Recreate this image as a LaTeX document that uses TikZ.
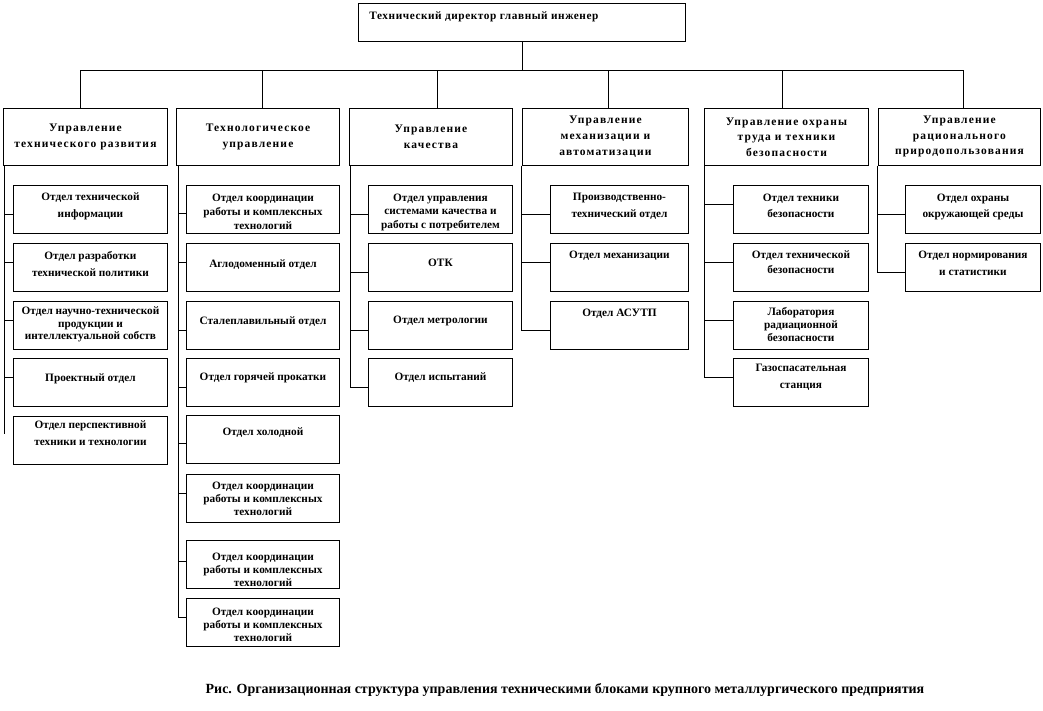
\documentclass[tikz,border=0pt]{standalone}
\usepackage{fontspec}
\setmainfont{Liberation Serif}
\begin{document}
\begin{tikzpicture}[x=1pt,y=-1pt,
  bx/.style={draw, line width=0.9pt, inner sep=0pt, anchor=north west, font=\bfseries},
  ln/.style={line width=0.9pt}]
\useasboundingbox (0,0) rectangle (1043,710);
% name x y w offset spacing text
\newcommand\cbox[7]{\node[bx] (#1) at (#2,#3) {\begin{minipage}[c][48pt][t]{#4pt}\centering\fontsize{11.3}{#6}\selectfont\vspace*{\dimexpr#5pt-4.5pt\relax}\rule{0pt}{7.5pt}#7\end{minipage}};}
% name x w spacing text
\newcommand\hdbox[5]{\node[bx] (#1) at (#2,108) {\begin{minipage}[c][57pt][c]{#3pt}\centering\fontsize{11.5}{#4}\selectfont\addfontfeature{LetterSpace=10}#5\end{minipage}};}

\node[bx] (top) at (358,3) {\begin{minipage}[c][38pt][t]{327pt}\fontsize{11.3}{14}\selectfont\addfontfeature{LetterSpace=5}\vspace*{8pt}\rule{0pt}{7.5pt}\hspace*{11pt}Технический  директор главный инженер\end{minipage}};

\hdbox{h1}{3}{164}{16}{Управление\\технического  развития}
\hdbox{h2}{176}{163}{16}{Технологическое\\управление}
\hdbox{h3}{349}{163}{16}{Управление\\качества}
\hdbox{h4}{522}{166}{16}{Управление\\механизации  и\\автоматизации}
\hdbox{h5}{704}{164}{15.5}{Управление  охраны\\труда  и техники\\безопасности}
\hdbox{h6}{878}{162}{15.5}{Управление\\рационального\\природопользования}

% bus
\coordinate (j1) at (80,70);
\coordinate (j2) at (262,70);
\coordinate (j3) at (437,70);
\coordinate (j4) at (608,70);
\coordinate (j5) at (782,70);
\coordinate (j6) at (963,70);
\draw[ln] (top.south) -- (top.south |- j1);
\draw[ln] (j1) -- (j6);
\foreach \k in {1,...,6} {\draw[ln] (j\k) -- (j\k |- h\k.north);}

% column 1
\cbox{b11}{13}{185}{154}{12}{17}{Отдел технической\\информации}
\cbox{b12}{13}{243}{154}{12}{17}{Отдел разработки\\технической  политики}
\cbox{b13}{13}{301}{154}{10}{12.5}{Отдел научно-технической\\продукции и\\интеллектуальной собств}
\cbox{b14}{13}{358}{154}{20}{17}{Проектный отдел}
\cbox{b15}{13}{416}{154}{9}{17}{Отдел перспективной\\техники  и технологии}
% column 2
\cbox{b21}{186}{185}{153}{13}{14}{Отдел координации\\работы и комплексных\\технологий}
\cbox{b22}{186}{243}{153}{21}{17}{Аглодоменный  отдел}
\cbox{b23}{186}{301}{153}{20}{17}{Сталеплавильный  отдел}
\cbox{b24}{186}{358}{153}{19}{17}{Отдел горячей прокатки}
\cbox{b25}{186}{415}{153}{17}{17}{Отдел холодной}
\cbox{b26}{186}{474}{153}{12}{13}{Отдел координации\\работы и комплексных\\технологий}
\cbox{b27}{186}{540}{153}{17}{13}{Отдел координации\\работы и комплексных\\технологий}
\cbox{b28}{186}{598}{153}{14}{13}{Отдел координации\\работы и комплексных\\технологий}
% column 3
\cbox{b31}{368}{185}{144}{13}{13.5}{Отдел управления\\системами  качества и\\работы с потребителем}
\cbox{b32}{368}{243}{144}{20}{17}{ОТК}
\cbox{b33}{368}{301}{144}{19}{17}{Отдел метрологии}
\cbox{b34}{368}{358}{144}{19}{17}{Отдел испытаний}
% column 4
\cbox{b41}{550}{185}{138}{12}{17}{Производственно-\\технический  отдел}
\cbox{b42}{550}{243}{138}{12}{17}{Отдел механизации}
\cbox{b43}{550}{301}{138}{12}{17}{Отдел АСУТП}
% column 5
\cbox{b51}{733}{185}{135}{13}{16}{Отдел техники\\безопасности}
\cbox{b52}{733}{243}{135}{12}{15}{Отдел технической\\безопасности}
\cbox{b53}{733}{301}{135}{10}{13}{Лаборатория\\радиационной\\безопасности}
\cbox{b54}{733}{358}{135}{10}{17}{Газоспасательная\\станция}
% column 6
\cbox{b61}{905}{185}{135}{13}{16}{Отдел охраны\\окружающей среды}
\cbox{b62}{905}{243}{135}{12}{17}{Отдел нормирования\\и статистики}

% spines and branches
\draw[ln] ([xshift=1pt]h1.south west) -- ++(0,268);
\draw[ln] ([xshift=1pt]h1.south west) |- ([yshift=-5pt]b11.west);
\draw[ln] ([xshift=1pt]h1.south west) |- ([yshift=5pt]b12.west);
\draw[ln] ([xshift=1pt]h1.south west) |- ([yshift=5pt]b13.west);
\draw[ln] ([xshift=1pt]h1.south west) |- ([yshift=5pt]b14.west);

\draw[ln] ([xshift=2pt]h2.south west) |- ([yshift=-4pt]b21.west);
\draw[ln] ([xshift=2pt]h2.south west) |- ([yshift=5pt]b22.west);
\draw[ln] ([xshift=2pt]h2.south west) |- ([yshift=-4.5pt]b23.west);
\draw[ln] ([xshift=2pt]h2.south west) |- ([yshift=-5pt]b24.west);
\draw[ln] ([xshift=2pt]h2.south west) |- ([yshift=-4pt]b25.west);
\draw[ln] ([xshift=2pt]h2.south west) |- ([yshift=5pt]b26.west);
\draw[ln] ([xshift=2pt]h2.south west) |- ([yshift=3pt]b27.west);
\draw[ln] ([xshift=2pt]h2.south west) |- ([yshift=5pt]b28.west);

\draw[ln] ([xshift=1pt]h3.south west) |- ([yshift=-5pt]b31.west);
\draw[ln] ([xshift=1pt]h3.south west) |- ([yshift=-5pt]b32.west);
\draw[ln] ([xshift=1pt]h3.south west) |- ([yshift=-4.5pt]b33.west);
\draw[ln] ([xshift=1pt]h3.south west) |- ([yshift=-5pt]b34.west);

\draw[ln] ([xshift=-1pt]h4.south west) |- ([yshift=-5pt]b41.west);
\draw[ln] ([xshift=-1pt]h4.south west) |- ([yshift=5pt]b42.west);
\draw[ln] ([xshift=-1pt]h4.south west) |- ([yshift=-4.5pt]b43.west);

\draw[ln] (h5.south west) |- ([yshift=5pt]b51.west);
\draw[ln] (h5.south west) |- ([yshift=5pt]b52.west);
\draw[ln] (h5.south west) |- ([yshift=5pt]b53.west);
\draw[ln] (h5.south west) |- ([yshift=5pt]b54.west);

\draw[ln] ([xshift=-1pt]h6.south west) |- ([yshift=-5pt]b61.west);
\draw[ln] ([xshift=-1pt]h6.south west) |- ([yshift=-5pt]b62.west);

\node[font=\bfseries\fontsize{14}{16}\selectfont] (cap) at (565,690) {Рис. Организационная структура  управления техническими блоками крупного металлургического  предприятия};
\end{tikzpicture}
\end{document}
